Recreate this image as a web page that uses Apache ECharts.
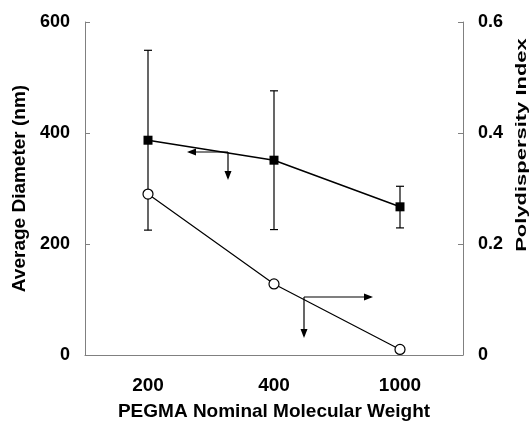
<!DOCTYPE html>
<html>
<head>
<meta charset="utf-8">
<script src="https://cdn.jsdelivr.net/npm/echarts@6/dist/echarts.min.js"></script>
<style>
  html, body { margin: 0; padding: 0; background: #fff; }
  #main { width: 532px; height: 426px; }
</style>
</head>
<body>
<div id="main"></div>
<script>
  // PEGMA nominal molecular weight
  var weights = ['200', '400', '1000'];
  // average diameter (nm), left axis
  var diameter = [387, 351, 267];
  var diameterLow = [225, 226, 229];
  var diameterHigh = [549, 476, 304];
  // polydispersity index, right axis
  var pdi = [0.29, 0.128, 0.01];
  var leftTicks = [0, 600, 200];
  var rightTicks = [0, 0.6, 0.2];

  var dom = document.getElementById('main');
  var myChart = echarts.init(dom, null, { renderer: 'canvas' });

  var font = 'Liberation Sans';
  var axisGray = '#808080';

  var errData = [];
  for (var i = 0; i < weights.length; i++) {
    errData.push([i, diameterLow[i], diameterHigh[i]]);
  }

  // little arrow marks (annotations, pixel positions)
  function arrowHead(x, y, dir) {
    var pts;
    if (dir == 'left') pts = [[x, y], [x + 9, y - 3.5], [x + 9, y + 3.5]];
    if (dir == 'right') pts = [[x, y], [x - 9, y - 3.5], [x - 9, y + 3.5]];
    if (dir == 'down') pts = [[x, y], [x - 3.5, y - 9], [x + 3.5, y - 9]];
    return { type: 'polygon', shape: { points: pts }, style: { fill: '#000' }, z: 10 };
  }
  function seg(x1, y1, x2, y2) {
    return { type: 'line', shape: { x1: x1, y1: y1, x2: x2, y2: y2 }, style: { stroke: '#000', lineWidth: 1.2 }, z: 10 };
  }

  var option = {
    animation: false,
    backgroundColor: '#fff',
    textStyle: { fontFamily: font },
    grid: { left: 85, right: 69, top: 22, bottom: 71 },
    xAxis: {
      type: 'category',
      data: weights,
      boundaryGap: true,
      name: 'PEGMA Nominal Molecular Weight',
      nameLocation: 'middle',
      nameGap: 47,
      nameTextStyle: { fontSize: 19, fontWeight: 'bold', color: '#000', fontFamily: font },
      axisLine: { lineStyle: { color: axisGray, width: 1 } },
      axisTick: { inside: true, length: 5, lineStyle: { color: axisGray } },
      axisLabel: { fontSize: 19, fontWeight: 'bold', color: '#000', margin: 21, fontFamily: font },
      splitLine: { show: false }
    },
    yAxis: [
      {
        type: 'value',
        min: leftTicks[0], max: leftTicks[1], interval: leftTicks[2],
        name: 'Average Diameter (nm)',
        nameLocation: 'middle',
        nameRotate: 90,
        nameGap: 55,
        nameTextStyle: { fontSize: 19, fontWeight: 'bold', color: '#000', fontFamily: font },
        axisLine: { show: true, lineStyle: { color: axisGray, width: 1 } },
        axisTick: { show: true, inside: true, length: 5, lineStyle: { color: axisGray } },
        axisLabel: { fontSize: 18, fontWeight: 'bold', color: '#000', margin: 15, fontFamily: font },
        splitLine: { show: false }
      },
      {
        type: 'value',
        position: 'right',
        min: rightTicks[0], max: rightTicks[1], interval: rightTicks[2],
        axisLine: { show: true, lineStyle: { color: axisGray, width: 1 } },
        axisTick: { show: true, inside: true, length: 5, lineStyle: { color: axisGray } },
        axisLabel: { fontSize: 18, fontWeight: 'bold', color: '#000', margin: 15, fontFamily: font },
        splitLine: { show: false }
      }
    ],
    series: [
      {
        name: 'err',
        type: 'custom',
        yAxisIndex: 0,
        data: errData,
        z: 3,
        renderItem: function(params, api) {
          var x = api.value(0);
          var lo = api.coord([x, api.value(1)]);
          var hi = api.coord([x, api.value(2)]);
          var w = 4;
          var st = { stroke: '#000', lineWidth: 1.2 };
          return {
            type: 'group',
            children: [
              { type: 'line', shape: { x1: lo[0], y1: lo[1], x2: hi[0], y2: hi[1] }, style: st },
              { type: 'line', shape: { x1: lo[0] - w, y1: lo[1], x2: lo[0] + w, y2: lo[1] }, style: st },
              { type: 'line', shape: { x1: hi[0] - w, y1: hi[1], x2: hi[0] + w, y2: hi[1] }, style: st }
            ]
          };
        }
      },
      {
        name: 'Average Diameter',
        type: 'line',
        yAxisIndex: 0,
        data: diameter,
        symbol: 'rect',
        symbolSize: 9,
        z: 4,
        lineStyle: { color: '#000', width: 1.5 },
        itemStyle: { color: '#000' }
      },
      {
        name: 'Polydispersity Index',
        type: 'line',
        yAxisIndex: 1,
        data: pdi,
        symbol: 'circle',
        symbolSize: 10,
        z: 4,
        lineStyle: { color: '#000', width: 1.2 },
        itemStyle: { color: '#fff', borderColor: '#000', borderWidth: 1.2 }
      }
    ],
    graphic: [
      // right axis title, stretched along its length like the original
      {
        type: 'text',
        x: 522, y: 145,
        rotation: Math.PI / 2,
        scaleX: 1.22, scaleY: 0.85,
        style: {
          text: 'Polydispersity Index',
          font: 'bold 18px "Liberation Sans"',
          fill: '#000',
          align: 'center',
          verticalAlign: 'middle'
        }
      },
      seg(228, 152, 189, 152), arrowHead(187, 152, 'left'),
      seg(228, 152, 228, 178), arrowHead(228, 180, 'down'),
      seg(304, 297, 371, 297), arrowHead(373, 297, 'right'),
      seg(304, 297, 304, 336), arrowHead(304, 338, 'down')
    ]
  };

  if (option && typeof option === 'object') {
    myChart.setOption(option);
  }
  window.addEventListener('resize', myChart.resize);
</script>
</body>
</html>
